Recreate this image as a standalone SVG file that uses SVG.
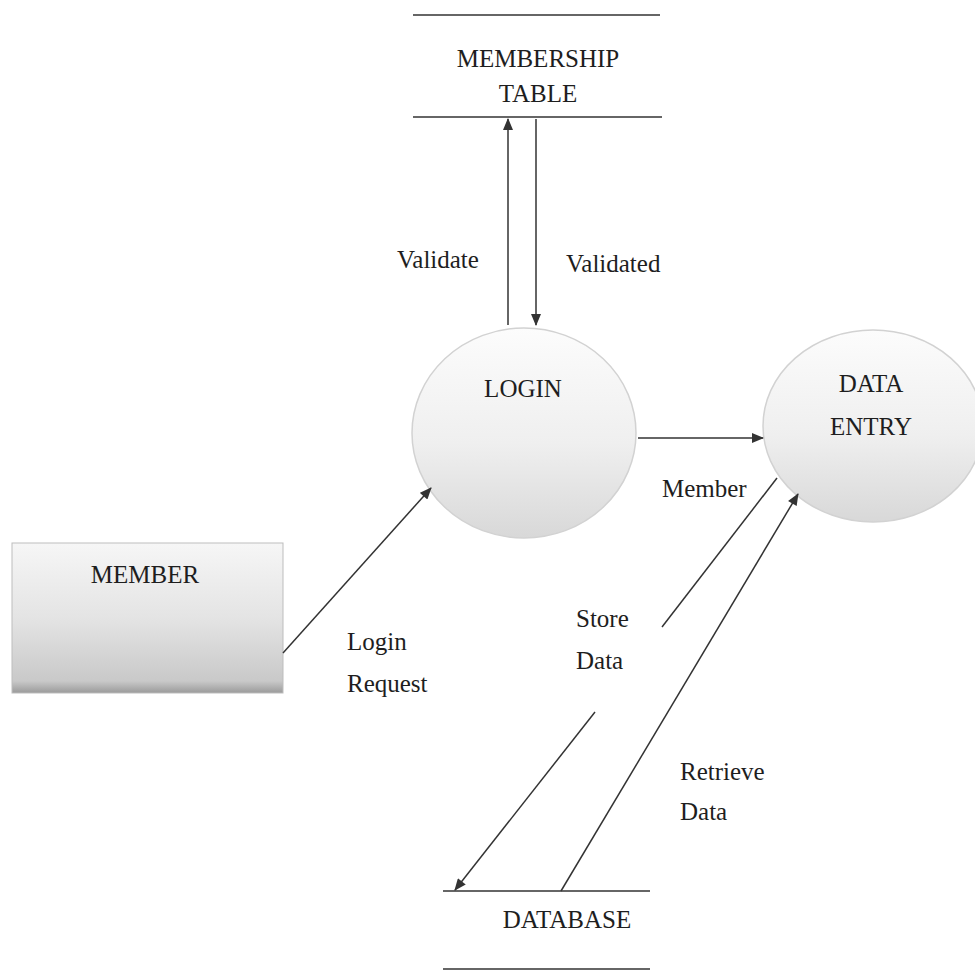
<svg xmlns="http://www.w3.org/2000/svg" width="975" height="972" viewBox="0 0 975 972">
  <style>
    .t { font-family: "Liberation Serif", "Times New Roman", serif; font-size: 25px; fill: #1e1e1e; }
    .c { text-anchor: middle; }
    .store { stroke: #333; stroke-width: 1.6; }
    .flow { stroke: #333; stroke-width: 1.5; fill: none; }
    .bubble { stroke: #d2d2d2; stroke-width: 1.5; }
  </style>
  <defs>
    <marker id="arrow" viewBox="0 0 12 10" refX="11" refY="5" markerWidth="13" markerHeight="10" markerUnits="userSpaceOnUse" orient="auto">
      <path d="M0,0 L12,5 L0,10 Z" fill="#333"/>
    </marker>
    <linearGradient id="bubbleFill" x1="0" y1="0" x2="0" y2="1">
      <stop offset="0" stop-color="#fcfcfc"/>
      <stop offset="0.55" stop-color="#efefef"/>
      <stop offset="1" stop-color="#d8d8d8"/>
    </linearGradient>
    <linearGradient id="boxFill" x1="0" y1="0" x2="0" y2="1">
      <stop offset="0" stop-color="#f6f6f6"/>
      <stop offset="0.5" stop-color="#e4e4e4"/>
      <stop offset="0.92" stop-color="#c9c9c9"/>
      <stop offset="1" stop-color="#9a9a9a"/>
    </linearGradient>
  </defs>

  <rect x="0" y="0" width="975" height="972" fill="#ffffff"/>

  <g id="membership-table">
    <line class="store" x1="413" y1="15" x2="660" y2="15"/>
    <line class="store" x1="413" y1="117" x2="662" y2="117"/>
    <text class="t c" x="538" y="67">MEMBERSHIP</text>
    <text class="t c" x="538" y="102">TABLE</text>
  </g>

  <g id="login">
    <ellipse class="bubble" cx="524" cy="433" rx="112" ry="105" fill="url(#bubbleFill)"/>
    <text class="t c" x="523" y="397">LOGIN</text>
  </g>

  <g id="data-entry">
    <ellipse class="bubble" cx="873" cy="426" rx="110" ry="96" fill="url(#bubbleFill)"/>
    <text class="t c" x="871" y="392">DATA</text>
    <text class="t c" x="871" y="435">ENTRY</text>
  </g>

  <g id="member">
    <rect x="12" y="543" width="271" height="150" fill="url(#boxFill)" stroke="#bdbdbd" stroke-width="1"/>
    <text class="t c" x="145" y="583">MEMBER</text>
  </g>

  <g id="database">
    <line class="store" x1="443" y1="891" x2="650" y2="891"/>
    <line class="store" x1="443" y1="969" x2="650" y2="969"/>
    <text class="t c" x="567" y="928">DATABASE</text>
  </g>

  <g id="connectors">
    <line class="flow" x1="508" y1="325" x2="508" y2="119" marker-end="url(#arrow)"/>
    <line class="flow" x1="536" y1="119" x2="536" y2="325" marker-end="url(#arrow)"/>
    <line class="flow" x1="638" y1="438" x2="763" y2="438" marker-end="url(#arrow)"/>
    <line class="flow" x1="283" y1="653" x2="431" y2="488" marker-end="url(#arrow)"/>
    <line class="flow" x1="777" y1="478" x2="662" y2="627"/>
    <line class="flow" x1="595" y1="712" x2="455" y2="890" marker-end="url(#arrow)"/>
    <line class="flow" x1="561" y1="891" x2="798" y2="494" marker-end="url(#arrow)"/>
  </g>

  <g id="labels">
    <text class="t" x="397" y="268">Validate</text>
    <text class="t" x="566" y="272">Validated</text>
    <text class="t" x="662" y="497">Member</text>
    <text class="t" x="347" y="650">Login</text>
    <text class="t" x="347" y="692">Request</text>
    <text class="t" x="576" y="627">Store</text>
    <text class="t" x="576" y="669">Data</text>
    <text class="t" x="680" y="780">Retrieve</text>
    <text class="t" x="680" y="820">Data</text>
  </g>
</svg>
